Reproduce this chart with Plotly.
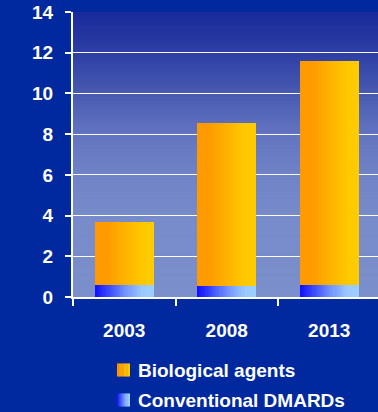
import plotly.graph_objects as go

# Data
years = ["2003", "2008", "2013"]
conventional_dmards = [0.61, 0.53, 0.61]
biological_agents = [3.05, 8.04, 11.0]
y_ticks = [0, 2, 4, 6, 8, 10, 12, 14]
legend_labels = ["Biological agents", "Conventional DMARDs"]

W, H = 378, 412
M_L, M_R, M_T, M_B = 73, 0, 12, 115
PAGE_BG = "#00299F"
FAMILY = "Liberation Sans, Arial, sans-serif"
BOLD = dict(family=FAMILY, size=19, color="white", weight="bold")
BAR_W = 0.575
N_SLICES = 28


def hex_to_rgb(h):
    h = h.lstrip("#")
    return tuple(int(h[i:i + 2], 16) for i in (0, 2, 4))


def ramp(stops, t):
    """Piecewise-linear colour ramp; stops = [(pos, hex), ...]."""
    for (p0, c0), (p1, c1) in zip(stops, stops[1:]):
        if p0 <= t <= p1:
            f = 0 if p1 == p0 else (t - p0) / (p1 - p0)
            a, b = hex_to_rgb(c0), hex_to_rgb(c1)
            r = [round(a[k] + (b[k] - a[k]) * f) for k in range(3)]
            return f"rgb({r[0]},{r[1]},{r[2]})"
    return stops[-1][1]


orange_ramp = [(0, "#ff9900"), (0.2, "#ff9b00"), (0.8, "#ffc800"), (1, "#ffcc00")]
blue_ramp = [(0, "#0c0cff"), (0.5, "#6f8fff"), (0.8, "#99c8ff"), (1, "#9ccdff")]
plot_bg_ramp = [(0.0, "#7b8fcc"), (0.28, "#788bca"), (0.43, "#7083c6"),
                (0.57, "#6274c0"), (0.70, "#4b5db3"), (0.85, "#2f40a5"), (1.0, "#18299b")]

fig = go.Figure()


def add_gradient_bars(values, base, stops, name):
    step = BAR_W / N_SLICES
    for i in range(N_SLICES):
        t = (i + 0.5) / N_SLICES
        w = step if i == N_SLICES - 1 else step * 1.6
        fig.add_trace(go.Bar(
            x=years, y=values, base=base,
            offset=-BAR_W / 2 + i * step, width=w,
            marker=dict(color=ramp(stops, t), line=dict(width=0)),
            name=name, showlegend=False,
            hovertemplate="%{x}: %{y}<extra>" + name + "</extra>",
        ))


add_gradient_bars(conventional_dmards, [0] * len(years), blue_ramp, legend_labels[1])
add_gradient_bars(biological_agents, conventional_dmards, orange_ramp, legend_labels[0])

# helpers: pixel position -> paper coordinates
plot_w = W - M_L - M_R
plot_h = H - M_T - M_B


def px_x(px):
    return (px - M_L) / plot_w


def px_y(py):
    return (H - M_B - py) / plot_h


shapes = []

# vertical gradient behind the plotting area
n_bands = 90
for i in range(n_bands):
    y0 = i / n_bands
    y1 = min((i + 1) / n_bands + 0.002, 1)
    shapes.append(dict(type="rect", xref="paper", yref="paper", x0=0, x1=1,
                       y0=y0, y1=y1, line=dict(width=0),
                       fillcolor=ramp(plot_bg_ramp, (i + 0.5) / n_bands), layer="below"))

# legend: gradient keys + labels below the chart
key_x0, key_size, text_x = 117, 13, 136
row_centers = [370, 400]
annotations = []
for label, stops, cy in zip(legend_labels, [orange_ramp, blue_ramp], row_centers):
    n = 10
    for i in range(n):
        x0 = key_x0 + key_size * i / n
        x1 = key_x0 + key_size * (i + 1) / n + (0.4 if i < n - 1 else 0)
        shapes.append(dict(type="rect", xref="paper", yref="paper",
                           x0=px_x(x0), x1=px_x(x1),
                           y0=px_y(cy + key_size / 2), y1=px_y(cy - key_size / 2),
                           line=dict(width=0), fillcolor=ramp(stops, (i + 0.5) / n),
                           layer="above"))
    annotations.append(dict(text=label, xref="paper", yref="paper",
                            x=px_x(text_x), y=px_y(cy), xanchor="left", yanchor="middle",
                            showarrow=False, font=BOLD))

fig.update_layout(
    width=W, height=H,
    margin=dict(l=M_L, r=M_R, t=M_T, b=M_B),
    paper_bgcolor=PAGE_BG,
    plot_bgcolor="#5a6cbb",
    barmode="overlay",
    bargap=0,
    font=BOLD,
    shapes=shapes,
    annotations=annotations,
    showlegend=False,
    xaxis=dict(
        type="category", range=[-0.5, 2.4756],
        showgrid=False, showline=True, linecolor="white", linewidth=2,
        ticks="outside", tickson="boundaries", ticklen=7, tickcolor="white", tickwidth=2,
        ticklabelstandoff=15,
        tickfont=BOLD,
        fixedrange=True,
    ),
    yaxis=dict(
        range=[0, 14], tickvals=y_ticks,
        showgrid=True, gridcolor="white", gridwidth=1.2,
        showline=True, linecolor="white", linewidth=2,
        ticks="outside", ticklen=6, tickcolor="white", tickwidth=2,
        ticklabelstandoff=8,
        tickfont=BOLD,
        zeroline=False, fixedrange=True,
    ),
)

fig.write_html("out.html", config={"displayModeBar": False})
